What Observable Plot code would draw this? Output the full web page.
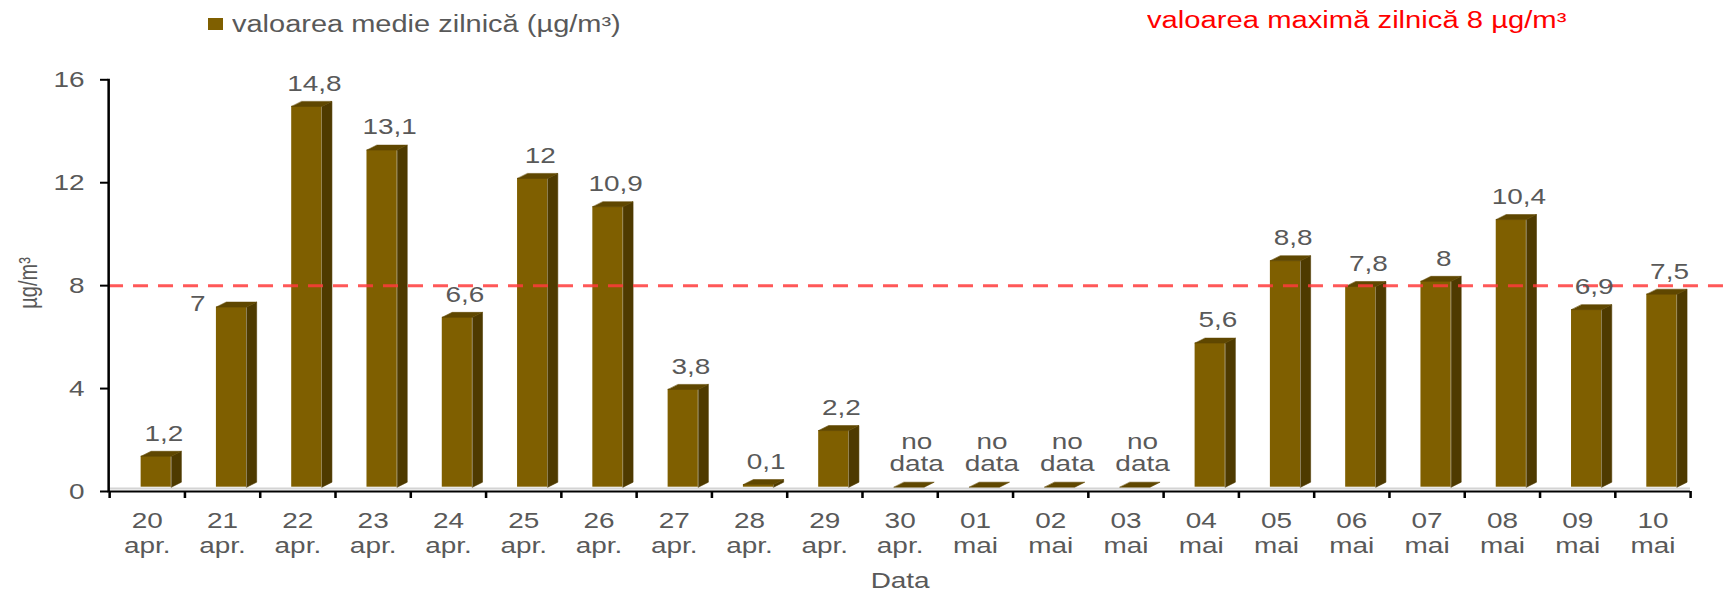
<!DOCTYPE html>
<html><head><meta charset="utf-8">
<script src="https://cdn.jsdelivr.net/npm/d3@7"></script>
<script src="https://cdn.jsdelivr.net/npm/@observablehq/plot@0.6"></script>
<style>
body{margin:0;background:#fff;font-family:"Liberation Sans",Arial,sans-serif;}
#head{position:relative;height:50px;width:1726px;overflow:visible;}
#sw{position:absolute;left:208px;top:18px;width:15px;height:12px;background:#7F5F00;}
#leg{position:absolute;left:232px;top:10px;font-size:23px;line-height:28px;color:#595959;white-space:nowrap;transform-origin:0 0;transform:scaleX(1.26);}
#limit{position:absolute;left:1147px;top:6px;font-size:23px;line-height:28px;color:#ff0000;white-space:nowrap;transform-origin:0 0;transform:scaleX(1.27);}
#chart{width:1726px;height:542px;overflow:hidden;}
</style></head><body>
<div id="head">
  <div id="sw"></div>
  <div id="leg">valoarea medie zilnică (µg/m³)</div>
  <div id="limit">valoarea maximă zilnică 8 µg/m³</div>
</div>
<div id="chart"></div>
<script>
const days   = ["20","21","22","23","24","25","26","27","28","29","30","01","02","03","04","05","06","07","08","09","10"];
const months = ["apr.","apr.","apr.","apr.","apr.","apr.","apr.","apr.","apr.","apr.","apr.","mai","mai","mai","mai","mai","mai","mai","mai","mai","mai"];
const values = [1.2, 7, 14.8, 13.1, 6.6, 12, 10.9, 3.8, 0.1, 2.2, null, null, null, null, 5.6, 8.8, 7.8, 8, 10.4, 6.9, 7.5];
const limitValue = 8;
const yTicks = [0, 4, 8, 12, 16];
const noDataText = "no\ndata";

// the reference picture is horizontally stretched; draw narrower and stretch
const sx = 1.27;
const W = 1726, H = 542;
const mL = 108, mT = 29.3, mB = 101;
const xR = [109, 1690];
const n = days.length;
const pxPerX = (xR[1] - xR[0]) / n;
const pxPerY = (H - mB - mT) / 16;
const depthX = 10 / pxPerX, depthY = 5 / pxPerY;
const lift = -4.3;
const f0 = 0.42, f1 = 0.82;

const colFront = "#7F5F00", colSide = "#4E3A00", colTop = "#5F4700";
const txt = "#595959";

const table = values.map((v, i) => ({i, v: v ?? 0, missing: v == null,
  label: v == null ? noDataText : String(v).replace(".", ",")}));

const polys = [];
table.forEach(d => {
  const a = d.i + f0, b = d.i + f1, v = d.v;
  [[a, v], [b, v], [b + depthX, v + depthY], [a + depthX, v + depthY]]
    .forEach(([x, y]) => polys.push({id: "t" + d.i, kind: "top", x, y}));
  if (v > 0) [[b, 0], [b + depthX, depthY], [b + depthX, v + depthY], [b, v]]
    .forEach(([x, y]) => polys.push({id: "s" + d.i, kind: "side", x, y}));
});

const displaced = 1; // Excel placed this label left of its bar
const labelsAbove = table.filter(d => d.i !== displaced);
const labelsLeft = table.filter(d => d.i === displaced);

const plot = Plot.plot({
  width: W / sx, height: H,
  marginLeft: mL / sx, marginRight: 0, marginTop: mT, marginBottom: mB,
  style: {fontFamily: "Liberation Sans, Arial, sans-serif", fontSize: "22px", background: "#fff"},
  x: {type: "linear", domain: [0, n], range: xR.map(v => v / sx)},
  y: {domain: [0, 16]},
  marks: [
    Plot.ruleY([0], {x1: 0, x2: n, stroke: "#d4d4d4", strokeWidth: 2, dy: -3}),
    Plot.line(polys.filter(d => d.kind === "side"), {x: "x", y: "y", z: "id", fill: colSide, stroke: colSide, strokeWidth: 0.5, curve: "linear-closed", dy: lift}),
    Plot.rect(table.filter(d => d.v > 0), {x1: d => d.i + f0, x2: d => d.i + f1, y1: 0, y2: "v", fill: colFront, dy: lift}),
    Plot.line(polys.filter(d => d.kind === "top"), {x: "x", y: "y", z: "id", fill: colTop, stroke: colTop, strokeWidth: 0.5, curve: "linear-closed", dy: lift}),
    Plot.ruleY([limitValue], {stroke: "#ff3b3b", strokeOpacity: 0.85, strokeWidth: 3, strokeDasharray: `${15 / sx},${10 / sx}`}),
    Plot.frame({anchor: "left", stroke: "#000", strokeWidth: 2}),
    Plot.ruleY([0], {x1: 0, x2: n, stroke: "#000", strokeWidth: 2}),
    Plot.axisY({ticks: yTicks, tickSize: 8 / sx, tickPadding: 16 / sx, stroke: "#000", strokeWidth: 2, fill: txt, label: null, fontSize: 22}),
    Plot.axisX({ticks: d3.range(n + 1), tickSize: 7, tickFormat: () => "", stroke: "#000", strokeWidth: 2, label: null}),
    Plot.axisX({ticks: d3.range(n).map(i => i + 0.5), tickSize: 0, tickPadding: 19,
      tickFormat: d => days[Math.floor(d)] + "\n" + months[Math.floor(d)],
      lineHeight: 1.14, fill: txt, label: null, fontSize: 22}),
    Plot.text(labelsAbove, {x: d => d.i + 0.72, y: "v", text: "label", lineAnchor: "bottom",
      dy: -20, fill: txt, fontSize: 22, lineHeight: 1.0}),
    Plot.text(labelsLeft, {x: d => d.i + 0.17, y: "v", text: "label", lineAnchor: "bottom",
      dy: 0, fill: txt, fontSize: 22}),
    Plot.text(["µg/m³"], {frameAnchor: "left", dx: -80 / sx, dy: 23, rotate: -90, fill: txt, fontSize: 20}),
    Plot.text(["Data"], {x: n / 2, y: 0, dy: 89, lineAnchor: "middle", fill: txt, fontSize: 22})
  ]
});
plot.style.transformOrigin = "0 0";
plot.style.transform = `scaleX(${sx})`;
document.getElementById("chart").appendChild(plot);
</script>
</body></html>
